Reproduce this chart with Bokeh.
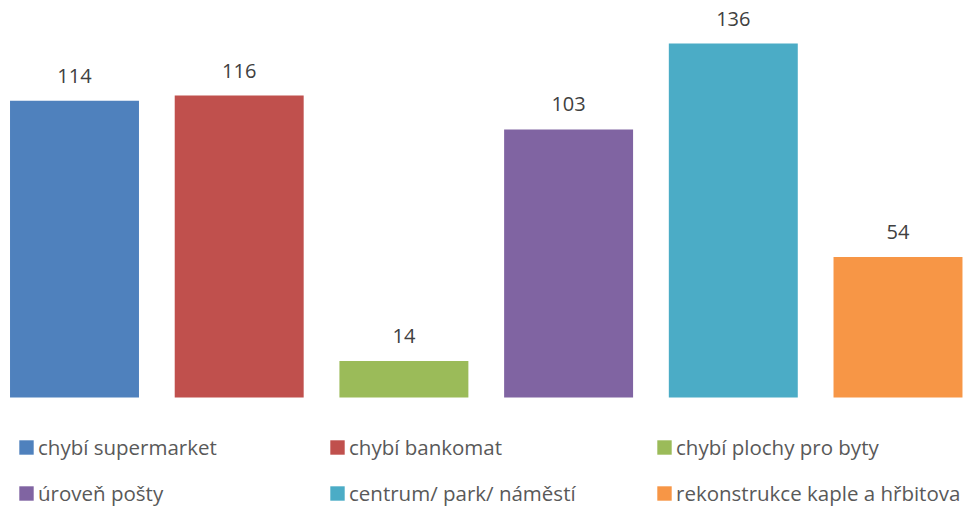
from bokeh.plotting import figure
from bokeh.models import ColumnDataSource, Range1d, LabelSet, Legend, LegendItem
from bokeh.core.properties import value
from bokeh.embed import file_html
from bokeh.resources import INLINE

categories = ["chybí supermarket", "chybí bankomat", "chybí plochy pro byty",
              "úroveň pošty", "centrum/ park/ náměstí", "rekonstrukce kaple a hřbitova"]
values = [114, 116, 14, 103, 136, 54]
colors = ["#4F81BD", "#C0504D", "#9BBB59", "#8064A2", "#4BACC6", "#F79646"]

src = ColumnDataSource(dict(x=list(range(len(values))), top=values, color=colors,
                            label=[str(v) for v in values]))

p = figure(width=963, height=506, output_backend="svg", toolbar_location=None,
           x_range=Range1d(-0.4493, 5.3977), y_range=Range1d(-41.87, 152.52), min_border=0)
p.axis.visible = False
p.grid.visible = False
p.outline_line_color = None

r = p.vbar(x='x', top='top', bottom=0, width=0.783, fill_color='color', line_color=None, source=src)

labels = LabelSet(x='x', y='top', text='label', source=src, y_offset=18,
                  text_align='center', text_baseline='alphabetic',
                  text_font=value('Open Sans'), text_font_size='20px', text_color='#404040')
p.add_layout(labels)

col_x = [17, 328, 655]
for c in range(3):
    items = [LegendItem(label=categories[c], renderers=[r], index=c),
             LegendItem(label=categories[c + 3], renderers=[r], index=c + 3)]
    lg = Legend(items=items, location=(col_x[c], -1), orientation='vertical',
                padding=0, margin=0, spacing=18, glyph_width=18, glyph_height=18,
                label_standoff=3, label_text_font='Open Sans', label_text_font_size='20.5px',
                label_text_color='#595959', border_line_color=None,
                background_fill_alpha=0)
    p.add_layout(lg)

open("out.html", "w").write(file_html(p, INLINE))
